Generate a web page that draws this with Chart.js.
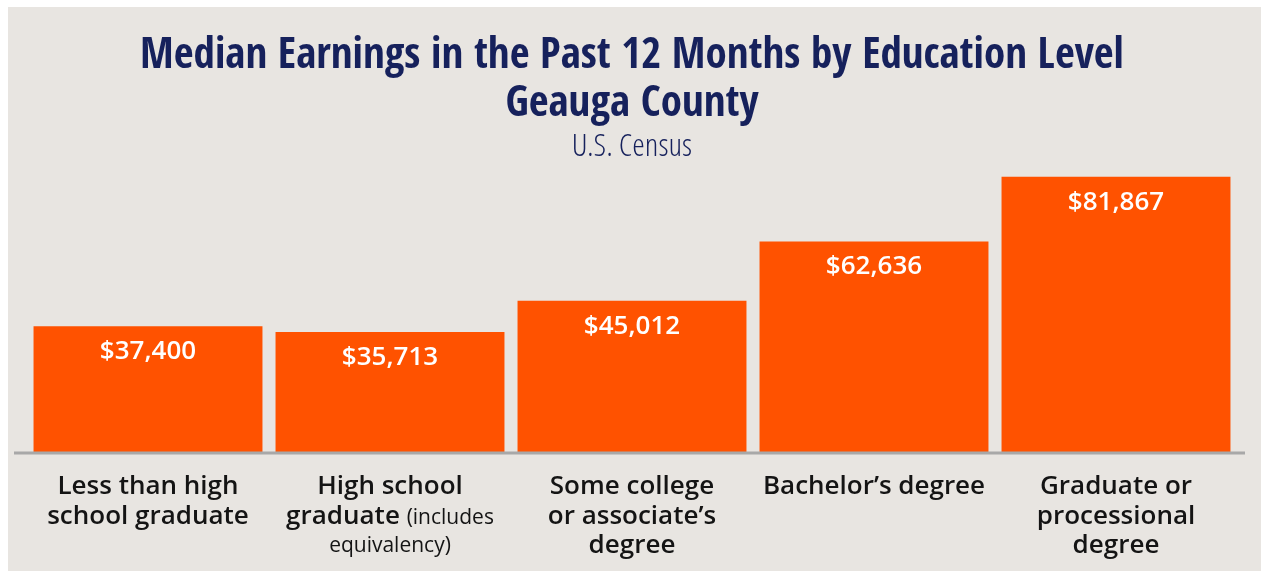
<!DOCTYPE html>
<html>
<head>
<meta charset="utf-8">
<script src="https://cdn.jsdelivr.net/npm/chart.js@4.4.1/dist/chart.umd.min.js"></script>
<style>
  html, body { margin: 0; padding: 0; background: #ffffff; }
  #panel { position: absolute; left: 8px; top: 7px; width: 1253px; height: 564px; background: #e8e5e1; }
</style>
</head>
<body>
<div id="panel"><canvas id="chart"></canvas></div>
<script>
// data
const categories = [
  'Less than high school graduate',
  'High school graduate (includes equivalency)',
  'Some college or associate\u2019s degree',
  'Bachelor\u2019s degree',
  'Graduate or processional degree'
];
const earnings = [37400, 35713, 45012, 62636, 81867];

// how each category label is broken up, [text, small?]
const categoryLines = [
  [[['Less than high', false]], [['school graduate', false]]],
  [[['High school', false]], [['graduate ', false], ['(includes', true]], [['equivalency)', true]]],
  [[['Some college', false]], [['or associate\u2019s', false]], [['degree', false]]],
  [[['Bachelor\u2019s degree', false]]],
  [[['Graduate or', false]], [['processional', false]], [['degree', false]]]
];

const titleLines = ['Median Earnings in the Past 12 Months by Education Level', 'Geauga County'];
const subtitleText = 'U.S. Census';

const navy = '#16215c';
const barColor = '#ff5200';
const labelFont = "'Open Sans', sans-serif";
const condFont = "'Open Sans Condensed', 'Open Sans', 'Liberation Sans Narrow', sans-serif";
const lightCondFont = "'Open Sans Condensed Light', 'Open Sans Condensed', 'Open Sans', sans-serif";

// white value labels inside the bars
const valueLabels = {
  id: 'valueLabels',
  afterDatasetsDraw(chart) {
    const ctx = chart.ctx;
    const meta = chart.getDatasetMeta(0);
    ctx.save();
    ctx.font = '600 26px ' + labelFont;
    ctx.fillStyle = '#ffffff';
    ctx.textAlign = 'center';
    ctx.textBaseline = 'alphabetic';
    meta.data.forEach((bar, i) => {
      ctx.fillText('$' + earnings[i].toLocaleString('en-US'), bar.x, bar.y + 33);
    });
    ctx.restore();
  }
};

// axis line and the multi-line category labels
const categoryAxis = {
  id: 'categoryAxis',
  afterDraw(chart) {
    const ctx = chart.ctx;
    const area = chart.chartArea;
    const xs = chart.scales.x;
    ctx.save();
    ctx.strokeStyle = '#a8a8a8';
    ctx.lineWidth = 3;
    ctx.beginPath();
    ctx.moveTo(area.left - 13, area.bottom + 1);
    ctx.lineTo(area.right + 8, area.bottom + 1);
    ctx.stroke();

    ctx.fillStyle = '#141414';
    ctx.textBaseline = 'alphabetic';
    ctx.textAlign = 'left';
    const big = '600 26px ' + labelFont;
    const small = '400 21px ' + labelFont;
    categoryLines.forEach((lines, i) => {
      const cx = xs.getPixelForValue(i);
      let y = area.bottom + 42;
      lines.forEach((segs, li) => {
        const allSmall = segs.every(s => s[1]);
        if (li > 0) y += allSmall ? 28 : 29.5;
        let w = 0;
        segs.forEach(s => { ctx.font = s[1] ? small : big; w += ctx.measureText(s[0]).width; });
        let x = cx - w / 2;
        segs.forEach(s => {
          ctx.font = s[1] ? small : big;
          ctx.fillText(s[0], x, y);
          x += ctx.measureText(s[0]).width;
        });
      });
    });
    ctx.restore();
  }
};

new Chart(document.getElementById('chart'), {
  type: 'bar',
  data: {
    labels: categories,
    datasets: [{
      data: earnings,
      backgroundColor: barColor,
      borderWidth: 0,
      barPercentage: 0.946,
      categoryPercentage: 1
    }]
  },
  options: {
    responsive: true,
    maintainAspectRatio: false,
    animation: false,
    layout: { padding: { left: 19, right: 24, bottom: 111, top: 0 } },
    plugins: {
      legend: { display: false },
      tooltip: { enabled: false },
      title: {
        display: true,
        text: titleLines,
        color: navy,
        font: { family: condFont, size: 43, weight: 'bold condensed', lineHeight: 48 / 43 },
        padding: { top: 26, bottom: 2 }
      },
      subtitle: {
        display: true,
        text: subtitleText,
        color: navy,
        font: { family: lightCondFont, size: 32, weight: '300 condensed', lineHeight: 33.6 / 32 },
        padding: { top: 0, bottom: 5 }
      }
    },
    scales: {
      x: {
        grid: { display: false },
        border: { display: false },
        ticks: { display: false }
      },
      y: {
        display: false,
        min: 0,
        max: 84000
      }
    }
  },
  plugins: [valueLabels, categoryAxis]
});
</script>
</body>
</html>
